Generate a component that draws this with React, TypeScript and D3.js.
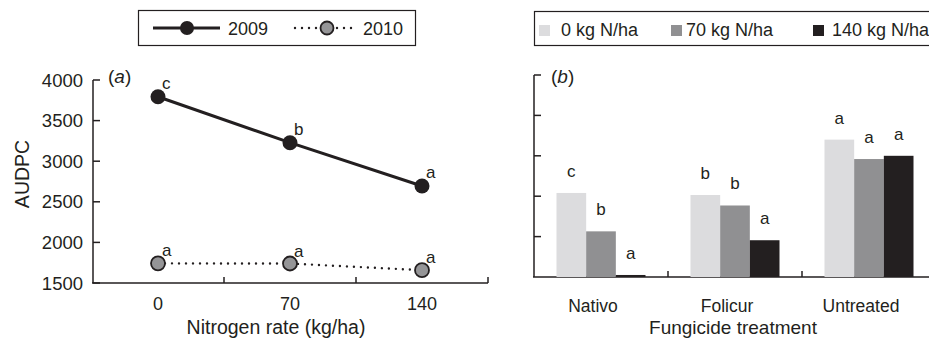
import * as d3 from 'd3';

// panel (a): AUDPC by nitrogen rate
const nitrogenRates = [0, 70, 140];
const audpc2009 = [3794, 3228, 2694];
const audpc2010 = [1742, 1740, 1658];
const letters2009 = ['c', 'b', 'a'];
const letters2010 = ['a', 'a', 'a'];
const yTicksA = [1500, 2000, 2500, 3000, 3500, 4000];

// panel (b): fungicide x nitrogen
const fungicides = ['Nativo', 'Folicur', 'Untreated'];
const nLevels = ['0 kg N/ha', '70 kg N/ha', '140 kg N/ha'];
const barN0 = [1040, 1015, 1700];
const barN70 = [565, 885, 1460];
const barN140 = [25, 455, 1500];
const lettersN0 = ['c', 'b', 'a'];
const lettersN70 = ['b', 'b', 'a'];
const lettersN140 = ['a', 'a', 'a'];
const yTicksB = [0, 500, 1000, 1500, 2000, 2500];

const font = '"Liberation Sans", Arial, sans-serif';
const ink = '#231f20';
const barColors = ['#dcdcde', '#909092', '#231f20'];

const App = () => {
    // scales for (a)
    const xA = d3.scalePoint<number>().domain(nitrogenRates).range([92, 488]).padding(0.5);
    const yA = d3.scaleLinear().domain([1500, 4000]).range([283, 80]);
    const stepA = xA.step();

    const line = d3.line<number>()
        .x((d, i) => xA(nitrogenRates[i])!)
        .y(d => yA(d));

    // scales for (b)
    const xB = d3.scaleBand<string>().domain(fungicides).range([534, 936]);
    const bw = xB.bandwidth();
    const xInner = d3.scaleBand<string>().domain(nLevels).range([(bw - 89) / 2, (bw + 89) / 2]);
    const yB = d3.scaleLinear().domain([0, 2500]).range([277, 75]);
    const barSeries = [barN0, barN70, barN140];
    const barLetters = [lettersN0, lettersN70, lettersN140];

    return (
        <svg width={929} height={338} style={{ position: 'absolute', left: 0, top: 0 }}
            fontFamily={font} fill={ink}>
            <rect width={929} height={338} fill="#fff" />

            {/* legend (a) */}
            <rect x={138.5} y={10.5} width={277} height={35} fill="none" stroke={ink} strokeWidth={1.2} />
            <line x1={153} x2={220} y1={28} y2={28} stroke={ink} strokeWidth={3} />
            <circle cx={187} cy={28} r={7} fill={ink} />
            <text x={228} y={35} fontSize={18}>2009</text>
            <line x1={295} x2={356} y1={28} y2={28} stroke={ink} strokeWidth={2.4}
                strokeDasharray="0 7" strokeLinecap="round" />
            <circle cx={327} cy={28} r={7} fill="#fff" stroke="none" />
            <circle cx={327} cy={28} r={6.5} fill="#959597" stroke={ink} strokeWidth={1.8} />
            <text x={363} y={35} fontSize={18}>2010</text>

            {/* axes (a) */}
            <line x1={93} x2={93} y1={yA(4000)} y2={yA(1500)} stroke={ink} strokeWidth={1.5} />
            <line x1={92} x2={488} y1={yA(1500)} y2={yA(1500)} stroke={ink} strokeWidth={1.5} />
            {yTicksA.map(t => (
                <g key={t}>
                    <line x1={93} x2={100} y1={yA(t)} y2={yA(t)} stroke={ink} strokeWidth={1.5} />
                    <text x={83} y={yA(t) + 6.5} fontSize={18.5} textAnchor="end">{t}</text>
                </g>
            ))}
            {nitrogenRates.map((n, i) => (
                <g key={n}>
                    <line x1={xA(n)! + stepA / 2} x2={xA(n)! + stepA / 2} y1={yA(1500)} y2={yA(1500) - 6}
                        stroke={ink} strokeWidth={1.5} />
                    <text x={xA(n)} y={310} fontSize={18} textAnchor="middle">{n}</text>
                </g>
            ))}
            <text x={276} y={334} fontSize={19.5} textAnchor="middle">Nitrogen rate (kg/ha)</text>
            <text transform="translate(29,174) rotate(-90)" fontSize={19.5} textAnchor="middle">AUDPC</text>
            <text x={108} y={83} fontSize={19}>(<tspan fontStyle="italic">a</tspan>)</text>

            {/* lines (a) */}
            <path d={line(audpc2009)!} fill="none" stroke={ink} strokeWidth={3} />
            <path d={line(audpc2010)!} fill="none" stroke={ink} strokeWidth={2.4}
                strokeDasharray="0 7" strokeLinecap="round" />
            {audpc2009.map((v, i) => (
                <g key={'a' + i}>
                    <circle cx={xA(nitrogenRates[i])} cy={yA(v)} r={7.5} fill={ink} />
                    <text x={xA(nitrogenRates[i])! + 4} y={yA(v) - 8} fontSize={17}>{letters2009[i]}</text>
                </g>
            ))}
            {audpc2010.map((v, i) => (
                <g key={'b' + i}>
                    <circle cx={xA(nitrogenRates[i])} cy={yA(v)} r={7} fill="#959597" stroke={ink} strokeWidth={1.8} />
                    <text x={xA(nitrogenRates[i])! + 4} y={yA(v) - 7} fontSize={17}>{letters2010[i]}</text>
                </g>
            ))}

            {/* legend (b) */}
            <rect x={534.5} y={11.5} width={420} height={34} fill="none" stroke={ink} strokeWidth={1.2} />
            {nLevels.map((lv, i) => {
                const lx = [539, 671, 813][i];
                return (
                    <g key={lv}>
                        <rect x={lx} y={25} width={11} height={11} fill={barColors[i]} />
                        <text x={lx + (i === 0 ? 22 : i === 1 ? 15 : 19)} y={36} fontSize={18}>{lv}</text>
                    </g>
                );
            })}

            {/* axes (b) */}
            <line x1={534} x2={534} y1={yB(2500)} y2={yB(0)} stroke={ink} strokeWidth={1.5} />
            <line x1={533} x2={936} y1={yB(0)} y2={yB(0)} stroke={ink} strokeWidth={1.5} />
            {yTicksB.slice(1).map(t => (
                <line key={t} x1={534} x2={541} y1={yB(t)} y2={yB(t)} stroke={ink} strokeWidth={1.5} />
            ))}
            {fungicides.slice(0, 2).map(f => (
                <line key={f} x1={xB(f)! + bw} x2={xB(f)! + bw} y1={yB(0)} y2={yB(0) - 6}
                    stroke={ink} strokeWidth={1.5} />
            ))}
            <text x={551} y={83} fontSize={19}>(<tspan fontStyle="italic">b</tspan>)</text>

            {/* bars (b) */}
            {fungicides.map((f, fi) => (
                <g key={f} transform={`translate(${xB(f)},0)`}>
                    {nLevels.map((lv, li) => {
                        const v = barSeries[li][fi];
                        const bx = xInner(lv)!;
                        return (
                            <g key={lv}>
                                <rect x={bx} y={yB(v)} width={xInner.bandwidth()} height={yB(0) - yB(v)}
                                    fill={barColors[li]} />
                                <text x={bx + xInner.bandwidth() / 2} y={yB(v) - 16} fontSize={17}
                                    textAnchor="middle">{barLetters[li][fi]}</text>
                            </g>
                        );
                    })}
                    <text x={bw / 2 - 8} y={312} fontSize={17.5} textAnchor="middle">{f}</text>
                </g>
            ))}
            <text x={733} y={334} fontSize={19} textAnchor="middle">Fungicide treatment</text>
        </svg>
    );
};

export default App;
